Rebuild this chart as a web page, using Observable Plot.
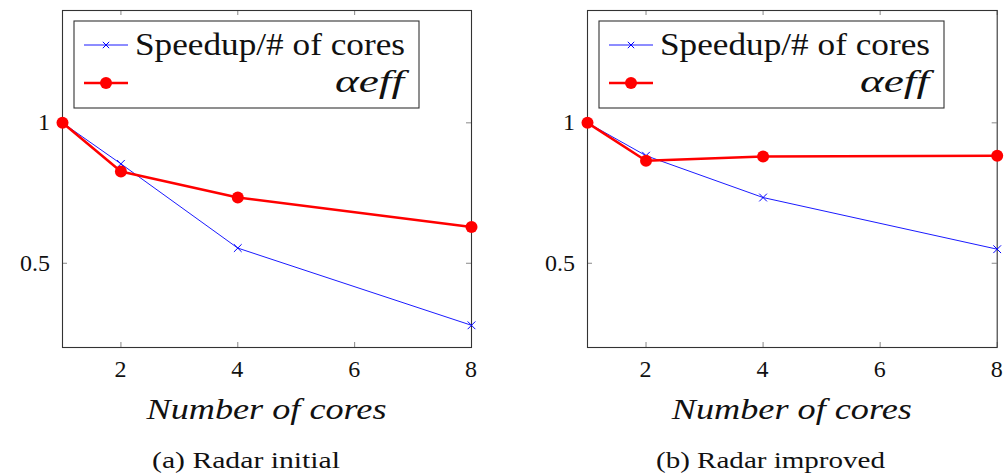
<!DOCTYPE html>
<html><head><meta charset="utf-8">
<script src="https://cdn.jsdelivr.net/npm/d3@7"></script>
<script src="https://cdn.jsdelivr.net/npm/@observablehq/plot@0.6"></script>
<style>
body{margin:0;background:#fff;font-family:'Liberation Serif',serif;}
#wrap{position:relative;width:1005px;height:474px;overflow:hidden;background:#fff;}
.panel{position:absolute;top:0;height:474px;}
.overlay{position:absolute;top:0;overflow:visible;pointer-events:none;}
.overlay text{font-family:'Liberation Serif',serif;fill:#111;}
</style></head><body>
<div id="wrap">
<svg id="ov0" class="overlay" width="500" height="474" style="left:0px">
  <text class="leg1" font-size="32" text-anchor="start">Speedup/# of cores</text>
  <text class="leg2" font-size="32" font-style="italic" text-anchor="end">αeff</text>
  <text class="xlab" font-size="30" font-style="italic" text-anchor="middle">Number of cores</text>
  <text class="cap" font-size="24" text-anchor="middle">(a) Radar initial</text>
</svg>
<svg id="ov1" class="overlay" width="505" height="474" style="left:500px">
  <text class="leg1" font-size="32" text-anchor="start">Speedup/# of cores</text>
  <text class="leg2" font-size="32" font-style="italic" text-anchor="end">αeff</text>
  <text class="xlab" font-size="30" font-style="italic" text-anchor="middle">Number of cores</text>
  <text class="cap" font-size="24" text-anchor="middle">(b) Radar improved</text>
</svg>
</div>
<script>
// ---- data ----
const cores = [1, 2, 4, 8];
const speedupInitial = [1, 0.854, 0.554, 0.279];
const alphaInitial = [1, 0.827, 0.734, 0.629];
const speedupImproved = [1, 0.883, 0.734, 0.55];
const alphaImproved = [1, 0.865, 0.880, 0.883];
const xTicks = [2, 4, 6, 8];
const yTicks = [0.5, 1];
const xDomain = [1, 8];
const yDomain = [0.2, 1.4];
const legendLabels = ["Speedup/# of cores", "\u03B1eff"];
const captions = ["(a) Radar initial", "(b) Radar improved"];
const xLabel = "Number of cores";

const FONT = "Liberation Serif";
const panels = [
  {left: 0, width: 500, ml: 62, mr: 29, speed: speedupInitial, alpha: alphaInitial, capX: 246, capW: 188},
  {left: 500, width: 505, ml: 87, mr: 8.3, speed: speedupImproved, alpha: alphaImproved, capX: 270.5, capW: 229}
];
const H = 474, MT = 10, MB = 127;
const wrap = document.getElementById("wrap");

function place(sel, x, y, len) {
  sel.attr("x", x).attr("y", y);
  if (len) sel.attr("textLength", len).attr("lengthAdjust", "spacingAndGlyphs");
  return sel;
}

panels.forEach((p, i) => {
  const speedData = cores.map((c, j) => ({x: c, y: p.speed[j]}));
  const alphaData = cores.map((c, j) => ({x: c, y: p.alpha[j]}));
  const innerH = H - MT - MB;
  const innerW = p.width - p.ml - p.mr;
  const chart = Plot.plot({
    width: p.width, height: H,
    marginLeft: p.ml, marginRight: p.mr, marginTop: MT, marginBottom: MB,
    style: {background: "#fff", overflow: "visible"},
    x: {domain: xDomain, axis: null},
    y: {domain: yDomain, axis: null},
    marks: [
      Plot.ruleX(xTicks, {x: d => d, insetTop: innerH - 5, stroke: "#888"}),
      Plot.ruleX(xTicks, {x: d => d, insetBottom: innerH - 5, stroke: "#888"}),
      Plot.ruleY(yTicks, {y: d => d, insetRight: innerW - 5, stroke: "#888"}),
      Plot.ruleY(yTicks, {y: d => d, insetLeft: innerW - 5, stroke: "#888"}),
      Plot.frame({stroke: "#333", strokeWidth: 1.1}),
      Plot.line(speedData, {x: "x", y: "y", stroke: "#0000ff", strokeWidth: 0.9}),
      Plot.dot(speedData, {x: "x", y: "y", symbol: "times", r: 3.6, stroke: "#0000ff", strokeWidth: 1}),
      Plot.line(alphaData, {x: "x", y: "y", stroke: "#ff0000", strokeWidth: 2.5}),
      Plot.dot(alphaData, {x: "x", y: "y", r: 6, fill: "#ff0000", stroke: "none"})
    ]
  });
  const div = document.createElement("div");
  div.className = "panel";
  div.style.left = p.left + "px";
  div.style.width = p.width + "px";
  div.appendChild(chart);
  const ovEl = document.getElementById("ov" + i);
  wrap.insertBefore(div, ovEl);

  const sx = chart.scale("x"), sy = chart.scale("y");
  const s = d3.select(ovEl);

  // legend box and symbols (drawn under the static texts)
  const bx = p.ml + 12, by = 21, bw = 345, bh = 87;
  const g = s.insert("g", ":first-child");
  g.append("rect").attr("x", bx).attr("y", by).attr("width", bw).attr("height", bh)
    .attr("fill", "#fff").attr("stroke", "#333").attr("stroke-width", 1.1);
  g.append("line").attr("x1", bx + 10).attr("x2", bx + 54).attr("y1", by + 24).attr("y2", by + 24)
    .attr("stroke", "#0000ff").attr("stroke-width", 0.9);
  const cx = bx + 32, cy = by + 24, k = 3.2;
  g.append("path").attr("d", `M${cx-k},${cy-k}L${cx+k},${cy+k}M${cx-k},${cy+k}L${cx+k},${cy-k}`)
    .attr("stroke", "#0000ff").attr("stroke-width", 1).attr("fill", "none");
  g.append("line").attr("x1", bx + 10).attr("x2", bx + 54).attr("y1", by + 62).attr("y2", by + 62)
    .attr("stroke", "#ff0000").attr("stroke-width", 2.5);
  g.append("circle").attr("cx", bx + 32).attr("cy", by + 62).attr("r", 6).attr("fill", "#ff0000");

  place(s.select(".leg1"), bx + 61, by + 34, 270);
  place(s.select(".leg2"), bx + 330, by + 71, 69);
  place(s.select(".xlab"), p.ml + innerW / 2, 419, 240);
  place(s.select(".cap"), p.capX, 468, p.capW);

  // tick labels positioned with Plot's scales
  for (const t of xTicks) s.append("text").attr("x", sx.apply(t)).attr("y", 377)
    .attr("font-size", 24).attr("text-anchor", "middle").text(String(t));
  for (const t of yTicks) s.append("text").attr("x", p.ml - 12).attr("y", sy.apply(t) + 8)
    .attr("font-size", 24).attr("text-anchor", "end").text(String(t));
});
</script></body></html>
